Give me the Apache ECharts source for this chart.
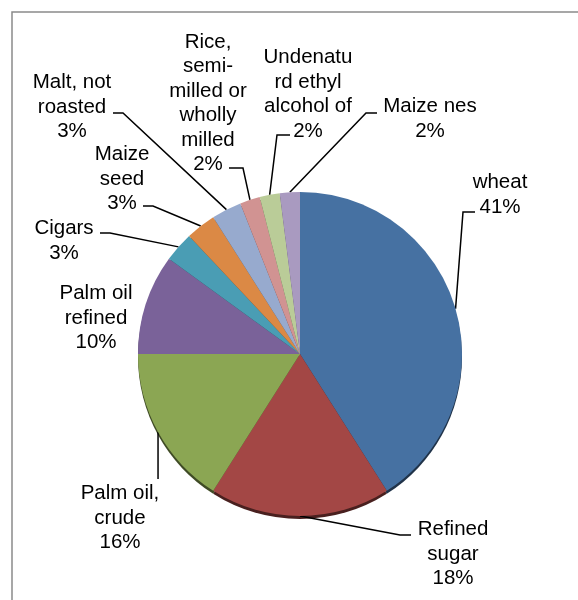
<!DOCTYPE html>
<html>
<head>
<meta charset="utf-8">
<script src="https://cdn.jsdelivr.net/npm/echarts@6/dist/echarts.min.js"></script>
<style>
  html, body { margin: 0; padding: 0; background: #ffffff; }
  #chart { width: 578px; height: 600px; }
</style>
</head>
<body>
<div id="chart"></div>
<script>
// Import shares by product (percent of total)
const categories = [
  'wheat',
  'Refined sugar',
  'Palm oil, crude',
  'Palm oil refined',
  'Cigars',
  'Maize seed',
  'Malt, not roasted',
  'Rice, semi-milled or wholly milled',
  'Undenatured ethyl alcohol of',
  'Maize nes'
];
const shares = [41, 18, 16, 10, 3, 3, 3, 2, 2, 2];

// Wrapped label text for each slice (the percentage is appended below)
const labelText = [
  ['wheat'],
  ['Refined', 'sugar'],
  ['Palm oil,', 'crude'],
  ['Palm oil', 'refined'],
  ['Cigars'],
  ['Maize', 'seed'],
  ['Malt, not', 'roasted'],
  ['Rice,', 'semi-', 'milled or', 'wholly', 'milled'],
  ['Undenatu', 'rd ethyl', 'alcohol of'],
  ['Maize nes']
];

const sliceColors = [
  '#4671a2', '#a34745', '#8ba653', '#7a6299', '#4a9db4',
  '#db8945', '#97aace', '#d19392', '#bacc98', '#a99ac0'
];

// Darker shade of each slice colour, used for the rim under the pie
function shade(hex, k) {
  const n = parseInt(hex.slice(1), 16);
  const r = Math.round(((n >> 16) & 255) * k);
  const g = Math.round(((n >> 8) & 255) * k);
  const b = Math.round((n & 255) * k);
  return 'rgb(' + r + ',' + g + ',' + b + ')';
}

// Pie geometry
const PIE_CENTER = [300, 354];
const PIE_RADIUS = 162;
const RIM_DROP = 3;

// Label placement: block centre, leader elbow and leader end next to the text
const labelPlacement = [
  { at: [500, 195],   elbow: [463, 212], end: [475, 212] },
  { at: [453, 554],   elbow: [400, 535], end: [411, 535] },
  { at: [120, 518],   drop: 479 },
  { at: [96, 318],    none: true },
  { at: [64, 241],    elbow: [110, 233], end: [100, 233] },
  { at: [122, 179],   elbow: [153, 206], end: [143, 206] },
  { at: [72, 107],    elbow: [123, 113], end: [113, 113] },
  { at: [208, 103.5], elbow: [243, 168], end: [229, 168] },
  { at: [308, 94.5],  elbow: [277, 135], end: [290, 135] },
  { at: [430, 119],   elbow: [366, 113], end: [377, 113] }
];

const chart = echarts.init(document.getElementById('chart'), null, { renderer: 'canvas' });

const pieData = categories.map(function (name, i) {
  const item = {
    name: name,
    value: shares[i],
    itemStyle: { color: sliceColors[i] }
  };
  if (labelPlacement[i].none) {
    item.labelLine = { show: false };
  }
  return item;
});

const rimData = categories.map(function (name, i) {
  return { name: name, value: shares[i], itemStyle: { color: shade(sliceColors[i], 0.45) } };
});

chart.setOption({
  animation: false,
  backgroundColor: '#ffffff',
  graphic: [
    {
      type: 'rect',
      silent: true,
      shape: { x: 12, y: 12, width: 640, height: 660 },
      style: { fill: 'none', stroke: '#8a8a8a', lineWidth: 1.5 }
    }
  ],
  series: [
    {
      // darker copy sitting slightly lower: forms the bevel rim along the bottom edge
      type: 'pie',
      silent: true,
      z: 1,
      center: [PIE_CENTER[0], PIE_CENTER[1] + RIM_DROP],
      radius: PIE_RADIUS,
      startAngle: 90,
      clockwise: true,
      avoidLabelOverlap: false,
      label: { show: false },
      labelLine: { show: false },
      itemStyle: { borderWidth: 0 },
      data: rimData
    },
    {
      type: 'pie',
      z: 2,
      center: PIE_CENTER,
      radius: PIE_RADIUS,
      startAngle: 90,
      clockwise: true,
      avoidLabelOverlap: false,
      emphasis: { disabled: true },
      itemStyle: { borderWidth: 0 },
      label: {
        show: true,
        position: 'outer',
        fontFamily: 'Liberation Sans, Arial, sans-serif',
        fontSize: 20.5,
        lineHeight: 24.5,
        color: '#000000',
        align: 'center',
        formatter: function (p) {
          return labelText[p.dataIndex].join('\n') + '\n' + Math.round(p.percent) + '%';
        }
      },
      labelLine: {
        show: true,
        length: 10,
        length2: 10,
        smooth: false,
        lineStyle: { color: '#000000', width: 1.5 }
      },
      labelLayout: function (params) {
        const spec = labelPlacement[params.dataIndex];
        const out = {
          x: spec.at[0],
          y: spec.at[1],
          align: 'center',
          verticalAlign: 'middle'
        };
        const pts = params.labelLinePoints;
        if (pts && !spec.none) {
          const p0 = pts[0];
          if (spec.drop !== undefined) {
            out.labelLinePoints = [p0, [p0[0], spec.drop], [p0[0], spec.drop]];
          } else {
            out.labelLinePoints = [p0, spec.elbow, spec.end];
          }
        }
        return out;
      },
      data: pieData
    }
  ]
});
</script>
</body>
</html>
